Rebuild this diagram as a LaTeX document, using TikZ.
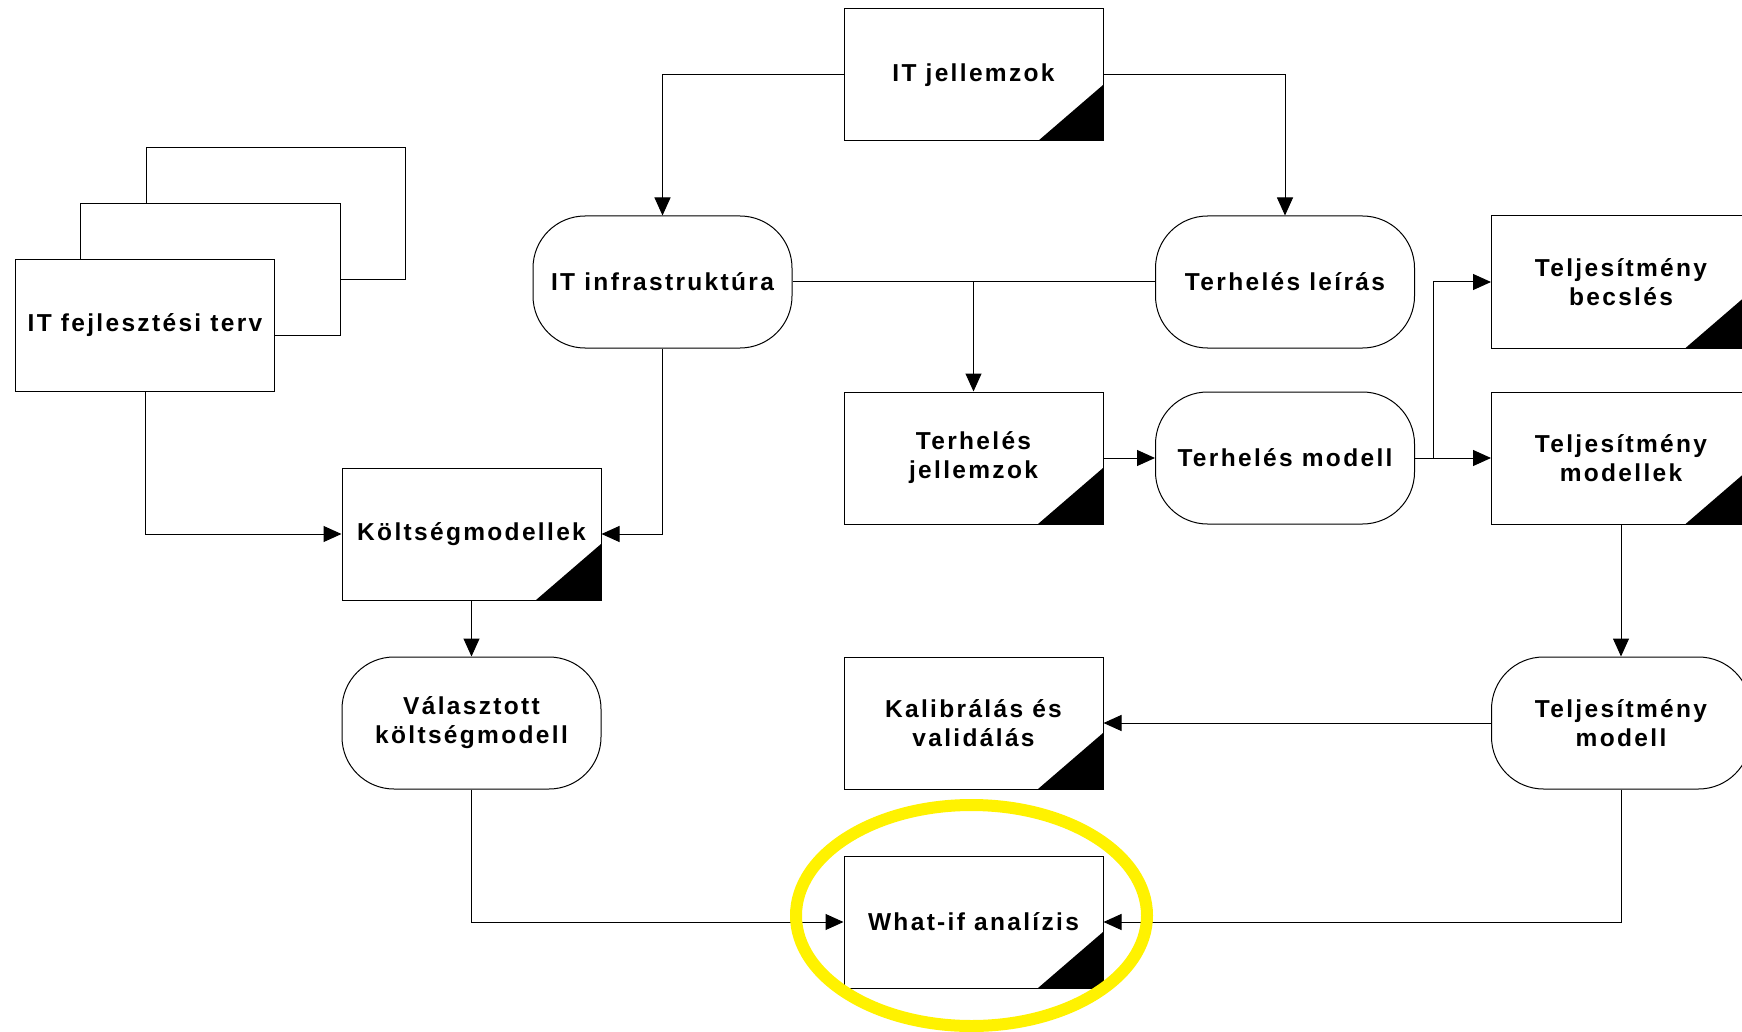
\documentclass[tikz,border=0pt]{standalone}
\usepackage{fontspec}
\setmainfont{Liberation Sans}[LetterSpace=9.5]
\usetikzlibrary{arrows.meta}
\begin{document}
\begin{tikzpicture}[x=1pt,y=-1pt,
  every node/.style={font=\fontsize{24.5}{29}\selectfont\bfseries, align=center, inner sep=0pt},
  box/.style={draw=black, line width=1pt, fill=white, minimum width=259pt, minimum height=132pt},
  docbox/.style={box, path picture={
      \fill[black] (path picture bounding box.south east) -- ++(-65,0) -- ++(65,-56) -- cycle;}},
  termbox/.style={box, rounded corners=52pt},
  conn/.style={line width=1pt, draw=black},
  arr/.style={conn, -{Triangle[length=18pt,width=16pt]}}]
\useasboundingbox (0,0) rectangle (1742,1032);
\clip (0,0) rectangle (1742,1032);

% stacked plan sheets
\draw[box] (146.6,148) rectangle (405.5,280);
\draw[box] (80,203.5) rectangle (340,335.5);
\node[box] (fej) at (145,325.5) {IT fejlesztési terv};

\node[docbox]  (itj)      at (973.5,75)  {IT jellemzok};
\node[termbox] (infra)    at (662.5,282) {IT infrastruktúra};
\node[termbox] (leiras)   at (1285,282)  {Terhelés leírás};
\node[docbox]  (becsles)  at (1621,282)  {Teljesítmény\\becslés};
\node[docbox]  (tjell)    at (973.5,458) {Terhelés\\jellemzok};
\node[termbox] (tmod)     at (1285,458)  {Terhelés modell};
\node[docbox]  (pmodels)  at (1621,458)  {Teljesítmény\\modellek};
\node[docbox]  (kolts)    at (471.5,534) {Költségmodellek};
\node[termbox] (valasz)   at (471.5,723) {Választott\\költségmodell};
\node[docbox]  (kalib)    at (973.5,723) {Kalibrálás és\\validálás};
\node[termbox] (pmodel)   at (1621,723)  {Teljesítmény\\modell};
\node[docbox]  (whatif)   at (973.5,922) {What-if analízis};

% connectors
\draw[arr] (itj.west) -| (infra.north);
\draw[arr] (itj.east) -| (leiras.north);
\draw[conn] (infra.east) -- (leiras.west);
\draw[arr] (tjell.north |- infra.east) -- (tjell.north);
\draw[arr] (infra.south) |- (kolts.east);
\draw[arr] (fej.south) |- (kolts.west);
\draw[arr] (kolts.south) -- (valasz.north);
\draw[arr] (valasz.south) |- (whatif.west);
\draw[arr] (pmodel.south) |- (whatif.east);
\draw[arr] (pmodel.west) -- (kalib.east);
\draw[arr] (pmodels.south) -- (pmodel.north);
\draw[arr] (tjell.east) -- (tmod.west);
\draw[arr] (tmod.east) -- (pmodels.west);
\coordinate (split) at (1433,458);
\draw[arr] (split) |- (becsles.west);

% highlight
\draw[yellow, line width=12pt] (971.5,915.5) ellipse [x radius=175.5, y radius=110.5];
\end{tikzpicture}
\end{document}
